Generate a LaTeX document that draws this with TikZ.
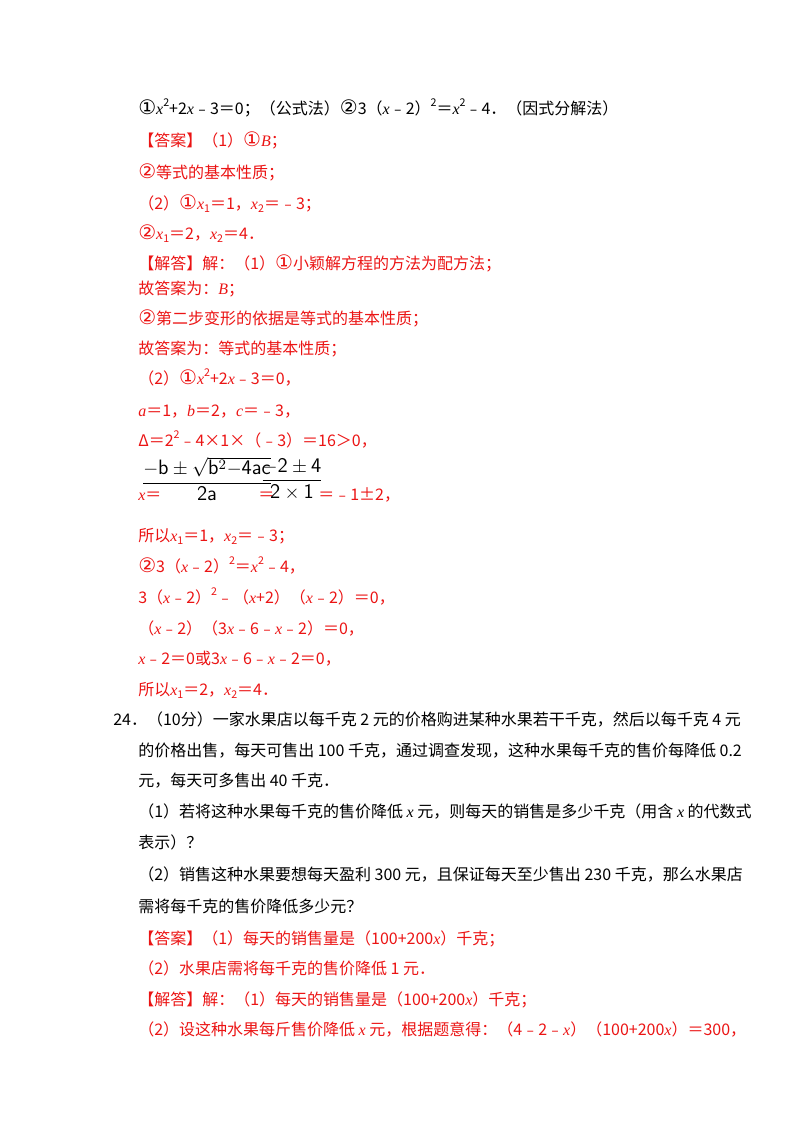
\documentclass[tikz,border=0pt]{standalone}
\usepackage{amsmath}
\usepackage{fontspec}
\setmainfont{Liberation Serif}
\newfontfamily\cjk{Noto Sans CJK SC}
\newfontfamily\cir{DejaVu Sans}
\newcommand{\mi}[1]{{\rmfamily\itshape #1}}
\newcommand{\cn}[1]{{\cir\fontsize{15}{15}\selectfont #1}}
\newcommand{\up}[1]{\raisebox{0.9ex}{\fontsize{8}{8}\selectfont #1}}
\newcommand{\dn}[1]{\raisebox{-0.4ex}{\fontsize{8}{8}\selectfont #1}}
\definecolor{ansred}{RGB}{235,20,20}
\begin{document}
\begin{tikzpicture}[x=0.75pt,y=-0.75pt,
  tl/.style={anchor=base west,inner sep=0pt,font=\cjk\fontsize{12}{14}\selectfont},
  rl/.style={tl,text=ansred}]
\useasboundingbox (0,0) rectangle (800,1132);
\node[tl] (l1) at (138,114) {\cn{①}\mi{x}\up{2}+2\mi{x}﹣3＝0；（公式法）\cn{②}3（\mi{x}﹣2）\up{2}＝\mi{x}\up{2}﹣4．（因式分解法）};
\node[rl] (l2) at (138,146) {【答案】（1）\cn{①}\mi{B}；};
\node[rl] (l3) at (138,178) {\cn{②}等式的基本性质；};
\node[rl] (l4) at (138,209) {（2）\cn{①}\mi{x}\dn{1}＝1，\mi{x}\dn{2}＝﹣3；};
\node[rl] (l5) at (138,239) {\cn{②}\mi{x}\dn{1}＝2，\mi{x}\dn{2}＝4．};
\node[rl] (l6) at (138,269) {【解答】解：（1）\cn{①}小颖解方程的方法为配方法；};
\node[rl] (l7) at (138,294) {故答案为：\mi{B}；};
\node[rl] (l8) at (138,324) {\cn{②}第二步变形的依据是等式的基本性质；};
\node[rl] (l9) at (138,354) {故答案为：等式的基本性质；};
\node[rl] (l10) at (138,384) {（2）\cn{①}\mi{x}\up{2}+2\mi{x}﹣3＝0，};
\node[rl] (l11) at (138,416) {\mi{a}＝1，\mi{b}＝2，\mi{c}＝﹣3，};
\node[rl] (l12) at (138,446) {Δ＝2\up{2}﹣4×1×（﹣3）＝16＞0，};
\node[rl] (l13a) at (138,500) {\mi{x}＝};
\node[anchor=center,inner sep=0pt,font=\sffamily\fontsize{13}{14}\selectfont,scale=1.2] (f1) at (207,479) {$\dfrac{\mathsf{-b}\pm\sqrt{\mathsf{b}^{2}\mathsf{-4ac}}}{\mathsf{2a}}$};
\node[rl] (l13b) at (258,500) {＝};
\node[anchor=center,inner sep=0pt,font=\sffamily\fontsize{13}{14}\selectfont,scale=1.2] (f2) at (292,479) {$\dfrac{\mathsf{-2\pm 4}}{\mathsf{2\times 1}}$};
\node[rl] (l13c) at (318,500) {＝﹣1±2，};
\node[rl] (l14) at (138,541) {所以\mi{x}\dn{1}＝1，\mi{x}\dn{2}＝﹣3；};
\node[rl] (l15) at (138,572) {\cn{②}3（\mi{x}﹣2）\up{2}＝\mi{x}\up{2}﹣4，};
\node[rl] (l16) at (138,603) {3（\mi{x}﹣2）\up{2}﹣（\mi{x}+2）（\mi{x}﹣2）＝0，};
\node[rl] (l17) at (138,634) {（\mi{x}﹣2）（3\mi{x}﹣6﹣\mi{x}﹣2）＝0，};
\node[rl] (l18) at (138,664) {\mi{x}﹣2＝0或3\mi{x}﹣6﹣\mi{x}﹣2＝0，};
\node[rl] (l19) at (138,695) {所以\mi{x}\dn{1}＝2，\mi{x}\dn{2}＝4．};
\node[tl] (l20) at (113,725) {24．（10分）一家水果店以每千克 2 元的价格购进某种水果若干千克，然后以每千克 4 元};
\node[tl] (l21) at (138,756) {的价格出售，每天可售出 100 千克，通过调查发现，这种水果每千克的售价每降低 0.2};
\node[tl] (l22) at (138,786) {元，每天可多售出 40 千克．};
\node[tl] (l23) at (138,817) {（1）若将这种水果每千克的售价降低 \mi{x} 元，则每天的销售是多少千克（用含 \mi{x} 的代数式};
\node[tl] (l24) at (138,848) {表示）？};
\node[tl] (l25) at (138,880) {（2）销售这种水果要想每天盈利 300 元，且保证每天至少售出 230 千克，那么水果店};
\node[tl] (l26) at (138,912) {需将每千克的售价降低多少元？};
\node[rl] (l27) at (138,944) {【答案】（1）每天的销售量是（100+200\mi{x}）千克；};
\node[rl] (l28) at (138,974) {（2）水果店需将每千克的售价降低 1 元．};
\node[rl] (l29) at (138,1005) {【解答】解：（1）每天的销售量是（100+200\mi{x}）千克；};
\node[rl] (l30) at (138,1035) {（2）设这种水果每斤售价降低 \mi{x} 元，根据题意得：（4﹣2﹣\mi{x}）（100+200\mi{x}）＝300，};
\end{tikzpicture}
\end{document}
